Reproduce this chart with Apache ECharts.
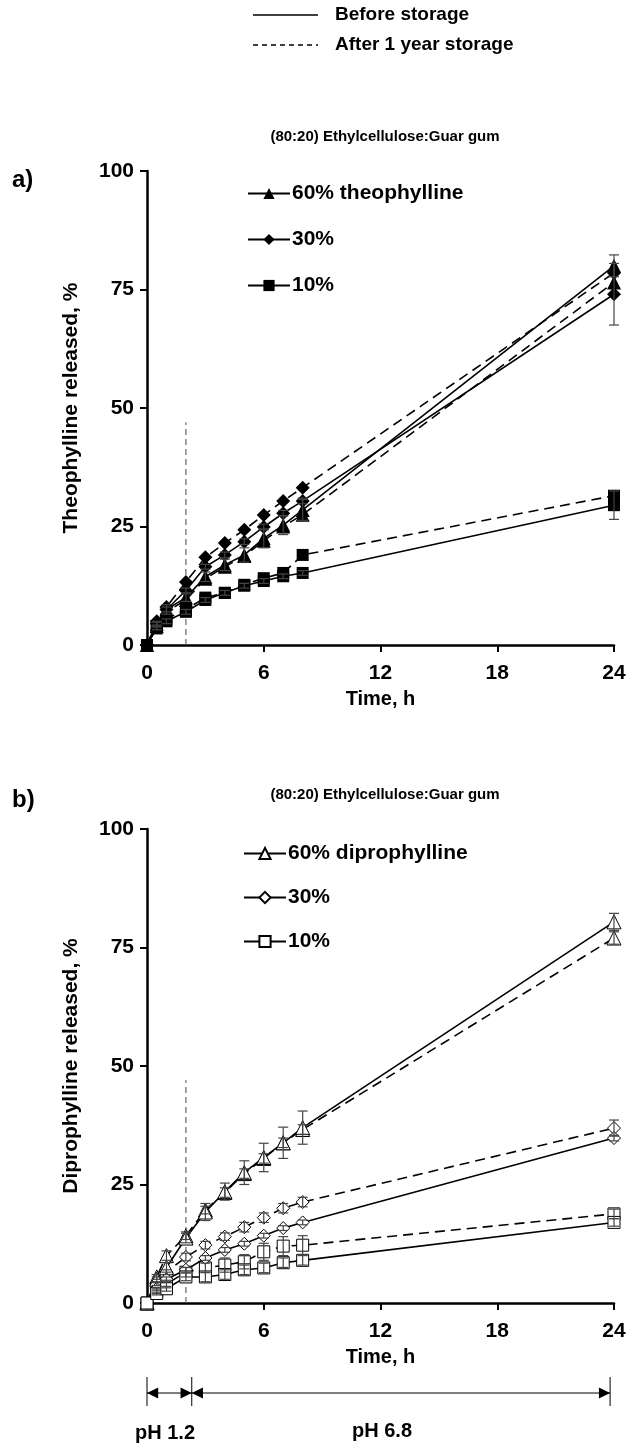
<!DOCTYPE html>
<html>
<head>
<meta charset="utf-8">
<script src="https://cdn.jsdelivr.net/npm/echarts@6/dist/echarts.min.js"></script>
<style>
  html, body { margin: 0; padding: 0; background: #fff; }
  #main { width: 630px; height: 1445px; }
</style>
</head>
<body>
<div id="main"></div>
<script>
// sampling times, h
const times = [0, 0.5, 1, 2, 3, 4, 5, 6, 7, 8, 24];
const xTicks = [0, 6, 12, 18, 24];
const yTicks = [0, 25, 50, 75, 100];

// a) theophylline, % released
const theo60Before = [0, 4.5, 7.5, 10, 14.4, 16.9, 19, 22.5, 25.3, 28.5, 80];
const theo60After = [0, 4, 7, 9.5, 14, 16.5, 18.8, 22, 25, 27.5, 76.5];
const theo30Before = [0, 4.5, 7.5, 11.5, 16.5, 19, 21.8, 24.9, 27.8, 30.4, 74];
const theo30After = [0, 5, 8, 13.3, 18.5, 21.5, 24.3, 27.4, 30.4, 33.2, 78.5];
const theo10Before = [0, 3.5, 5, 7, 9.5, 11, 12.5, 13.5, 14.5, 15.2, 29.5];
const theo10After = [0, 4, 5.5, 7.5, 10, 11, 12.7, 14.1, 15.2, 19, 31.5];
const theo60Err = [0, 0.5, 1, 0.8, 1, 1.2, 1.5, 2, 2, 2.2, 2.3];
const theo30Err = [0, 0.3, 0.5, 0.5, 0.5, 0.6, 0.6, 0.6, 0.6, 0.6, 6.5];
const theo10Err = [0, 0.3, 0.5, 0.5, 0.5, 0.5, 0.5, 0.5, 0.5, 0.5, 3];

// b) diprophylline, % released
const dip60Before = [0, 5, 7.5, 13.7, 19.2, 23.5, 27.5, 30.7, 33.8, 37, 80.4];
const dip60After = [0, 5.5, 10, 14.2, 19.6, 23.3, 27.3, 30.5, 33.8, 36.6, 77];
const dip30Before = [0, 3, 5, 7, 9.5, 11.2, 12.5, 14.2, 15.8, 17, 34.8];
const dip30After = [0, 4, 6.5, 9.7, 12.2, 14, 16, 18, 20, 21.3, 36.9];
const dip10Before = [0, 2, 3, 5.5, 5.5, 6, 7, 7.4, 8.5, 9, 17];
const dip10After = [0, 2.5, 4, 6.5, 7.4, 8, 8.7, 10.8, 12, 12.2, 18.8];
const dip60BeforeErr = [0, 0.5, 1, 1, 1.8, 1.8, 2.5, 3, 3.3, 3.5, 1.8];
const dip60AfterErr = [0, 0.5, 1, 0.8, 0.8, 1, 1, 1, 1, 1, 1.3];
const dip30AfterErr = [0, 0.3, 0.5, 0.8, 0.8, 0.8, 1, 1, 1, 1, 1.7];
const dip30BeforeErr = [0, 0.3, 0.5, 0.5, 0.5, 0.5, 0.5, 0.5, 0.5, 0.5, 0.6];
const dip10AfterErr = [0, 0.5, 0.8, 1, 1, 1.5, 1.5, 1.8, 2, 2, 1];
const dip10BeforeErr = [0, 0.3, 0.5, 0.8, 1, 1, 1, 1, 1, 1, 0.8];

// pH change marker and phase arrows (h)
const phChange = [[2, 0], [2, 47]];
const phPhases = [
  { label: 'pH 1.2', from: 0, to: 2.3 },
  { label: 'pH 6.8', from: 2.3, to: 23.8 }
];

const font = 'Liberation Sans, Arial, sans-serif';
const legendNames = {
  a60: '60% theophylline', a30: '30%', a10: '10%',
  b60: '60% diprophylline', b30: '30%', b10: '10%'
};

function lineSeries(name, idx, vals, symbol, size, hollow, dashed) {
  return {
    name: name,
    type: 'line',
    xAxisIndex: idx,
    yAxisIndex: idx,
    data: times.map((t, i) => [t, vals[i]]),
    symbol: symbol,
    symbolSize: size,
    clip: false,
    lineStyle: { color: '#000', width: 1.6, type: dashed ? [10, 6] : 'solid' },
    itemStyle: hollow
      ? { color: '#fff', borderColor: '#000', borderWidth: 1 }
      : { color: '#000', borderWidth: 0 },
    z: dashed ? 2 : 3
  };
}

function errSeries(idx, vals, errs) {
  return {
    type: 'custom',
    xAxisIndex: idx,
    yAxisIndex: idx,
    clip: false,
    z: 4,
    data: times.map((t, i) => [t, vals[i], errs[i]]).filter(d => d[2] > 0),
    renderItem: function (params, api) {
      const x = api.value(0), y = api.value(1), e = api.value(2);
      const top = api.coord([x, y + e]);
      const bot = api.coord([x, y - e]);
      const w = 5;
      const st = { stroke: '#444', lineWidth: 1.2 };
      return {
        type: 'group',
        children: [
          { type: 'line', shape: { x1: top[0], y1: top[1], x2: bot[0], y2: bot[1] }, style: st },
          { type: 'line', shape: { x1: top[0] - w, y1: top[1], x2: top[0] + w, y2: top[1] }, style: st },
          { type: 'line', shape: { x1: bot[0] - w, y1: bot[1], x2: bot[0] + w, y2: bot[1] }, style: st }
        ]
      };
    }
  };
}

function xAxis(idx) {
  return {
    type: 'value', gridIndex: idx, min: 0, max: 24, interval: 6,
    name: 'Time, h', nameLocation: 'middle', nameGap: 44,
    nameTextStyle: { fontFamily: font, fontWeight: 'bold', fontSize: 20, color: '#000' },
    axisLine: { lineStyle: { color: '#000', width: 2.5 } },
    axisTick: { length: 7, lineStyle: { color: '#000', width: 2 } },
    axisLabel: { margin: 18, fontFamily: font, fontWeight: 'bold', fontSize: 21, color: '#000',
      formatter: v => xTicks.indexOf(v) >= 0 ? String(v) : '' },
    splitLine: { show: false }
  };
}

function yAxis(idx, title) {
  return {
    type: 'value', gridIndex: idx, min: 0, max: 100, interval: 25,
    name: title, nameLocation: 'middle', nameGap: 65,
    nameTextStyle: { fontFamily: font, fontWeight: 'bold', fontSize: 21, color: '#000' },
    axisLine: { show: true, lineStyle: { color: '#000', width: 2.5 } },
    axisTick: { show: true, length: 7, lineStyle: { color: '#000', width: 2 } },
    axisLabel: { margin: 13, fontFamily: font, fontWeight: 'bold', fontSize: 21, color: '#000',
      formatter: v => yTicks.indexOf(v) >= 0 ? String(v) : '' },
    splitLine: { show: false }
  };
}

function phSeries(idx) {
  return {
    type: 'line', xAxisIndex: idx, yAxisIndex: idx, data: phChange,
    symbol: 'none', silent: true, z: 1,
    lineStyle: { color: '#666', width: 1.2, type: [6, 4] }
  };
}

function chartLegend(keys, left, top, gap) {
  return {
    data: keys, left: left, top: top, orient: 'vertical',
    itemWidth: 42, itemHeight: 14, itemGap: gap, selectedMode: false,
    formatter: n => legendNames[n],
    textStyle: { fontFamily: font, fontWeight: 'bold', fontSize: 21, color: '#000', padding: [0, 0, 0, -3] }
  };
}

const series = [
  phSeries(0),
  lineSeries('a60', 0, theo60Before, 'triangle', 14, false, false),
  lineSeries('a60 after', 0, theo60After, 'triangle', 14, false, true),
  lineSeries('a30', 0, theo30Before, 'diamond', 14, false, false),
  lineSeries('a30 after', 0, theo30After, 'diamond', 14, false, true),
  lineSeries('a10', 0, theo10Before, 'rect', 12, false, false),
  lineSeries('a10 after', 0, theo10After, 'rect', 12, false, true),
  errSeries(0, theo60Before, theo60Err),
  errSeries(0, theo30Before, theo30Err),
  errSeries(0, theo10Before, theo10Err),

  phSeries(1),
  lineSeries('b60', 1, dip60Before, 'triangle', 14, true, false),
  lineSeries('b60 after', 1, dip60After, 'triangle', 14, true, true),
  lineSeries('b30', 1, dip30Before, 'diamond', 13, true, false),
  lineSeries('b30 after', 1, dip30After, 'diamond', 13, true, true),
  lineSeries('b10', 1, dip10Before, 'rect', 12, true, false),
  lineSeries('b10 after', 1, dip10After, 'rect', 12, true, true),
  errSeries(1, dip60Before, dip60BeforeErr),
  errSeries(1, dip60After, dip60AfterErr),
  errSeries(1, dip30Before, dip30BeforeErr),
  errSeries(1, dip30After, dip30AfterErr),
  errSeries(1, dip10Before, dip10BeforeErr),
  errSeries(1, dip10After, dip10AfterErr)
];

const myChart = echarts.init(document.getElementById('main'), null, { renderer: 'canvas' });

const option = {
  animation: false,
  backgroundColor: '#fff',
  grid: [
    { left: 147, right: 16, top: 171, height: 474 },
    { left: 147, right: 16, top: 829, height: 474 }
  ],
  xAxis: [xAxis(0), xAxis(1)],
  yAxis: [yAxis(0, 'Theophylline released, %'), yAxis(1, 'Diprophylline released, %')],
  legend: [
    chartLegend(['a60', 'a30', 'a10'], 242, 178, 25),
    chartLegend(['b60', 'b30', 'b10'], 238, 838, 23)
  ],
  series: series
};

myChart.setOption(option);

// titles, storage key, panel letters and the pH phase arrows
function px(idx, v) {
  return myChart.convertToPixel({ gridIndex: idx }, v);
}

const graphics = [];

// storage key at the top
graphics.push({ type: 'line', shape: { x1: 253, y1: 15, x2: 318, y2: 15 },
  style: { stroke: '#000', lineWidth: 1.3 } });
graphics.push({ type: 'line', shape: { x1: 253, y1: 45, x2: 318, y2: 45 },
  style: { stroke: '#000', lineWidth: 1.3, lineDash: [5, 4] } });
graphics.push({ type: 'text', x: 335, y: 15,
  style: { text: 'Before storage', font: 'bold 19px ' + font, fill: '#000', textVerticalAlign: 'middle' } });
graphics.push({ type: 'text', x: 335, y: 45,
  style: { text: 'After 1 year storage', font: 'bold 19px ' + font, fill: '#000', textVerticalAlign: 'middle' } });

[[0, 'a)'], [1, 'b)']].forEach(([idx, letter]) => {
  const top = px(idx, [12, 100]);
  graphics.push({
    type: 'text', x: 385, y: top[1] - 34,
    style: { text: '(80:20) Ethylcellulose:Guar gum', font: 'bold 15px ' + font, fill: '#000',
      textAlign: 'center', textVerticalAlign: 'middle' }
  });
  graphics.push({
    type: 'text', x: 12, y: top[1] + (idx === 0 ? 9 : -29),
    style: { text: letter, font: 'bold 24px ' + font, fill: '#000', textVerticalAlign: 'middle' }
  });
});

const arrowY = px(1, [0, 0])[1] + 90;
const arrowSize = 7;
[0, 2.3, 23.8].forEach(t => {
  const x = px(1, [t, 0])[0];
  graphics.push({ type: 'line', shape: { x1: x, y1: arrowY - 16, x2: x, y2: arrowY + 13 },
    style: { stroke: '#000', lineWidth: 1 } });
});
phPhases.forEach(p => {
  const x1 = px(1, [p.from, 0])[0];
  const x2 = px(1, [p.to, 0])[0];
  graphics.push({ type: 'line', shape: { x1: x1, y1: arrowY, x2: x2, y2: arrowY },
    style: { stroke: '#000', lineWidth: 1.2 } });
  graphics.push({ type: 'polygon',
    shape: { points: [[x1, arrowY], [x1 + arrowSize * 1.6, arrowY - arrowSize * 0.8], [x1 + arrowSize * 1.6, arrowY + arrowSize * 0.8]] },
    style: { fill: '#000' } });
  graphics.push({ type: 'polygon',
    shape: { points: [[x2, arrowY], [x2 - arrowSize * 1.6, arrowY - arrowSize * 0.8], [x2 - arrowSize * 1.6, arrowY + arrowSize * 0.8]] },
    style: { fill: '#000' } });
});
graphics.push({ type: 'text', x: 165, y: arrowY + 40,
  style: { text: phPhases[0].label, font: 'bold 20px ' + font, fill: '#000', textAlign: 'center', textVerticalAlign: 'middle' } });
graphics.push({ type: 'text', x: 382, y: arrowY + 38,
  style: { text: phPhases[1].label, font: 'bold 20px ' + font, fill: '#000', textAlign: 'center', textVerticalAlign: 'middle' } });

myChart.setOption({ graphic: graphics });
</script>
</body>
</html>
